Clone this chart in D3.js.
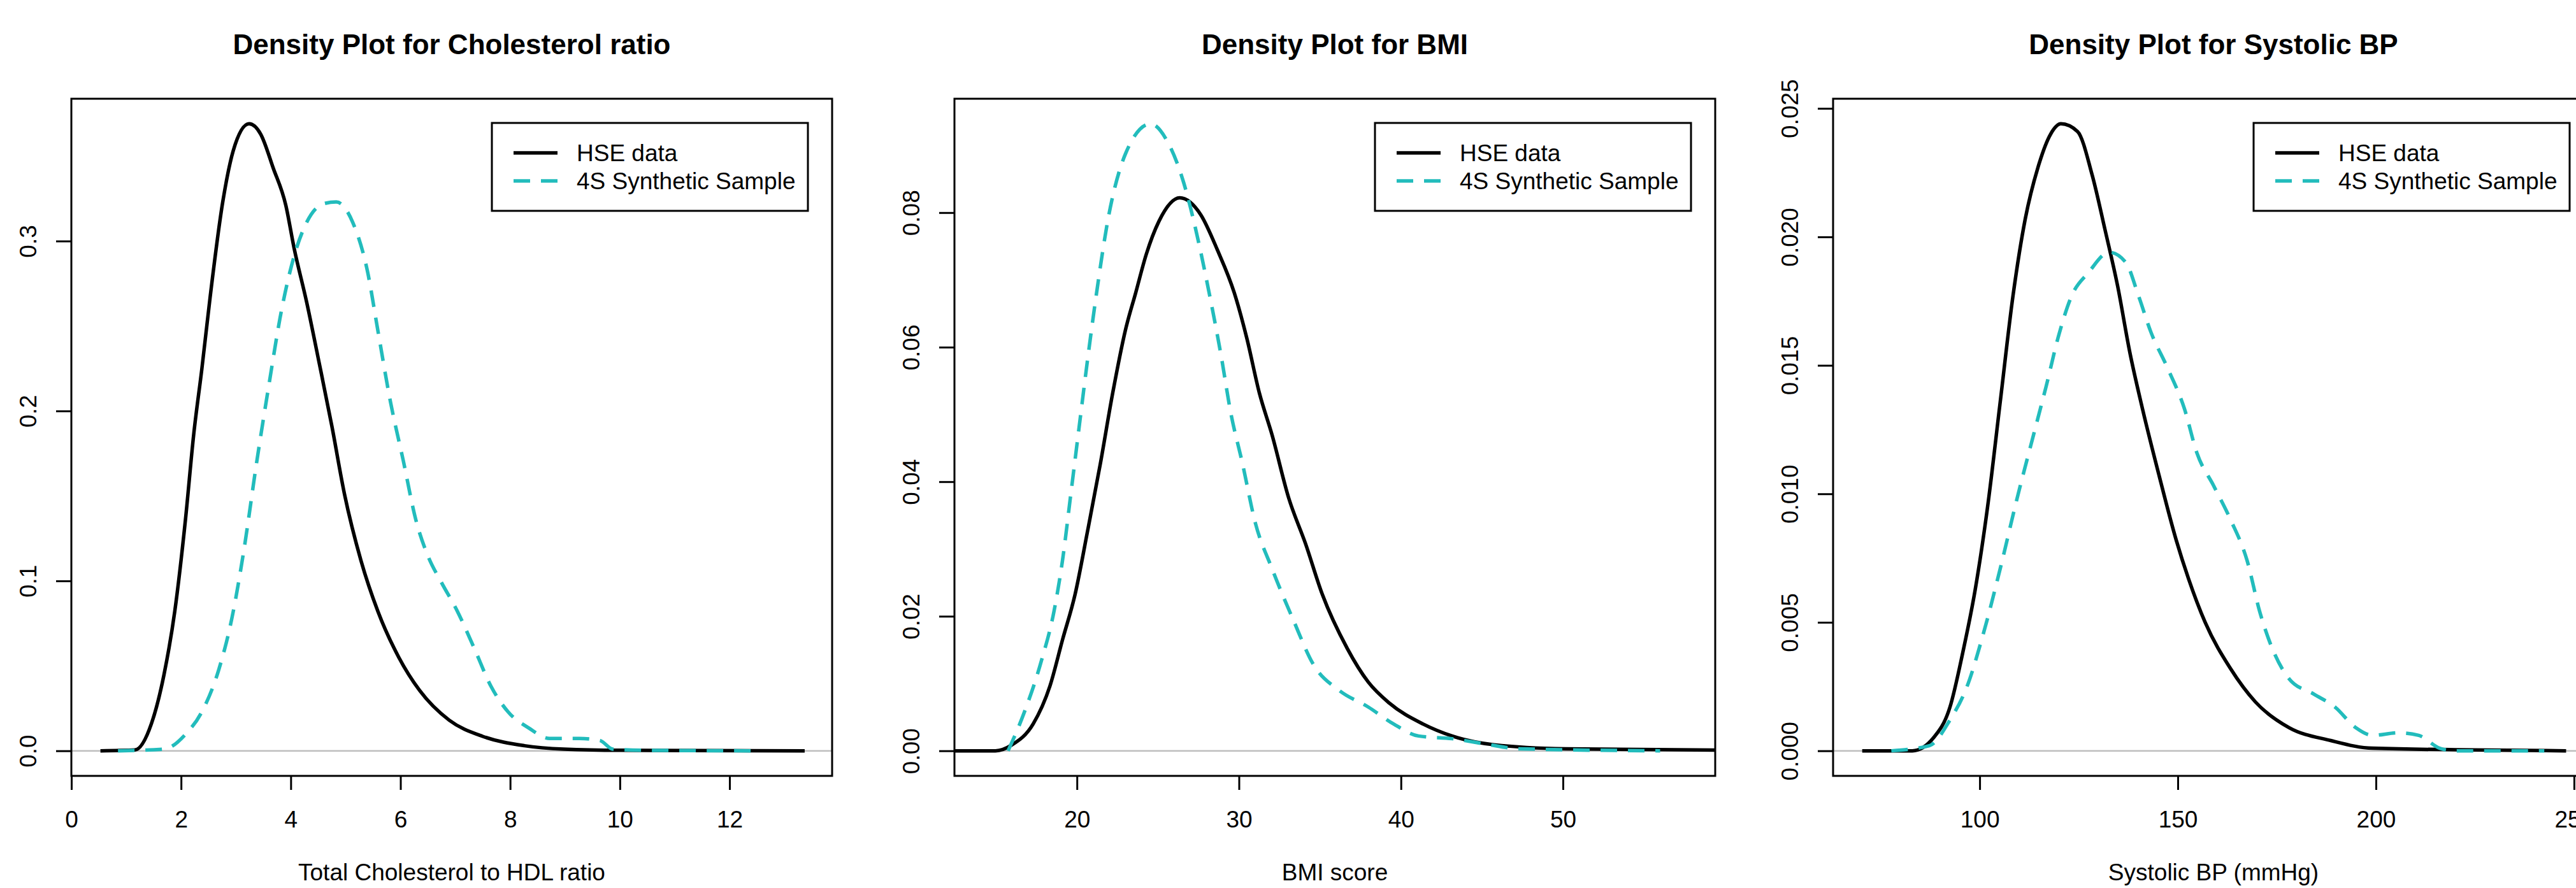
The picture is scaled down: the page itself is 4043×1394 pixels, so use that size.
<!DOCTYPE html>
<html>

<head>
    <meta charset="UTF-8">
    <title>Density plots</title>
    <style>
        body {
            margin: 0;
            overflow: hidden;
            background: #fff;
            font-family: 'Liberation Sans', Arial, sans-serif;
        }

        .title {
            font-size: 44px;
            font-weight: bold;
            text-anchor: middle;
        }

        .axislabel,
        .legend text,
        .axis text {
            font-size: 37px;
            fill: #000;
        }

        .axislabel {
            text-anchor: middle;
        }

        .axis line {
            stroke: #000;
            stroke-width: 3px;
        }
    </style>
</head>

<body>
    <script src="https://d3js.org/d3.v7.min.js"></script>
    <script>
        /// data

        var titles = ["Density Plot for Cholesterol ratio", "Density Plot for BMI", "Density Plot for Systolic BP"];
        var xLabels = ["Total Cholesterol to HDL ratio", "BMI score", "Systolic BP (mmHg)"];
        var seriesNames = ["HSE data", "4S Synthetic Sample"];

        // axis limits and ticks per panel
        var xLimits = [[0, 13.87], [12.44, 59.4], [63, 255]];
        var xTicks = [[0, 2, 4, 6, 8, 10, 12], [20, 30, 40, 50], [100, 150, 200, 250]];
        var yTicks = [[0, 0.1, 0.2, 0.3], [0, 0.02, 0.04, 0.06, 0.08], [0, 0.005, 0.01, 0.015, 0.02, 0.025]];
        var yDecimals = [1, 2, 3];

        // [x, density]
        var cholHse = [[0.53, 0], [1.16, 0.0005], [1.46, 0.016], [1.69, 0.045], [1.885, 0.082], [2.08, 0.136],
            [2.23, 0.186], [2.38, 0.225], [2.53, 0.267], [2.76, 0.323], [2.95, 0.353], [3.24, 0.369],
            [3.45, 0.363], [3.68, 0.343], [3.91, 0.321], [4.06, 0.296], [4.29, 0.264], [4.52, 0.228],
            [4.75, 0.191], [4.98, 0.151], [5.28, 0.112], [5.59, 0.082], [5.97, 0.055], [6.35, 0.0355],
            [6.89, 0.018], [7.5, 0.0085], [8.26, 0.003], [8.98, 0.001], [10, 0.0003], [13.37, 0]];
        var chol4s = [[0.85, 0], [1.69, 0.001], [2.08, 0.0097], [2.38, 0.023], [2.69, 0.048], [2.92, 0.077],
            [3.15, 0.119], [3.37, 0.168], [3.6, 0.215], [3.83, 0.259], [4.06, 0.291], [4.29, 0.311],
            [4.6, 0.322], [4.83, 0.323], [5.13, 0.311], [5.4, 0.282], [5.59, 0.247], [5.82, 0.205],
            [6.05, 0.171], [6.28, 0.136], [6.51, 0.114], [6.74, 0.0995], [7.04, 0.082], [7.35, 0.06],
            [7.65, 0.038], [7.96, 0.023], [8.34, 0.0134], [8.72, 0.0073], [9.26, 0.0073], [9.64, 0.006],
            [9.87, 0.001], [10.5, 0.0003], [12.4, 0]];

        var bmiHse = [[8, 0], [14.97, 0], [16.0, 0.0009], [17.3, 0.004], [18.33, 0.0096], [19.11, 0.0165],
            [19.89, 0.0233], [20.66, 0.0327], [21.44, 0.0426], [22.21, 0.0532], [22.99, 0.0625], [23.63, 0.0681],
            [24.28, 0.0738], [25.06, 0.0787], [26.35, 0.0822], [27.64, 0.0797], [28.68, 0.0744], [29.71, 0.0681],
            [30.49, 0.0613], [31.26, 0.0532], [32.04, 0.047], [33.07, 0.0376], [34.11, 0.0308], [35.14, 0.0233],
            [36.69, 0.0152], [37.99, 0.0102], [39.28, 0.0071], [41.35, 0.004], [43.16, 0.0022], [45.75, 0.0009],
            [50.15, 0.0003], [65, 0]];
        var bmi4s = [[15.75, 0], [16.78, 0.0059], [17.81, 0.0134], [18.59, 0.0208], [19.11, 0.0283], [19.63, 0.0383],
            [20.14, 0.0482], [20.66, 0.0582], [21.18, 0.0675], [21.95, 0.0794], [22.99, 0.0887], [24.54, 0.0932],
            [25.58, 0.0906], [26.61, 0.0843], [27.39, 0.0769], [28.16, 0.0681], [28.94, 0.0582], [29.46, 0.0507],
            [30.23, 0.0426], [31.01, 0.0339], [32.04, 0.0271], [33.33, 0.0196], [34.63, 0.0127], [36.18, 0.009],
            [37.99, 0.0065], [39.54, 0.004], [41.09, 0.0022], [43.16, 0.0018], [45.23, 0.001], [47.3, 0.0003],
            [56, 0]];

        var bpHse = [[70.35, 0], [83, 0], [88.3, 0.0005], [92.5, 0.0017], [95.7, 0.0038], [98.9, 0.0063],
            [102, 0.0095], [105.2, 0.0136], [108.4, 0.0177], [111.5, 0.0207], [114.7, 0.0227], [117.9, 0.024],
            [120.5, 0.0244], [124.7, 0.0241], [128.4, 0.0224], [131.6, 0.0203], [134.8, 0.0181], [137.9, 0.0155],
            [141.1, 0.0133], [145.3, 0.0107], [149.6, 0.0082], [152.7, 0.0067], [156.9, 0.005], [163.3, 0.0032],
            [169.6, 0.0019], [178.1, 0.0009], [188.6, 0.0004], [199.2, 0.0001], [248, 0]];
        var bp4s = [[77.7, 0], [87.3, 0.0002], [92.5, 0.0012], [96.8, 0.0025], [101, 0.0046], [105.2, 0.0071],
            [109.4, 0.0098], [113.6, 0.0123], [116.8, 0.0142], [120, 0.0162], [123.2, 0.0177], [127.4, 0.0186],
            [132.7, 0.0194], [136.9, 0.019], [140.1, 0.0177], [143.2, 0.0163], [147.4, 0.0149], [151.7, 0.0133],
            [154.8, 0.0116], [159.1, 0.0103], [163.3, 0.009], [167.5, 0.0074], [170.7, 0.0054], [173.8, 0.004],
            [178.1, 0.0028], [184.4, 0.0022], [189.7, 0.0017], [194.9, 0.0009], [199.2, 0.0006], [205.5, 0.0007],
            [210.8, 0.0006], [216.1, 0.0001], [220, 0], [242.5, 0]];

        var panelData = [[cholHse, chol4s], [bmiHse, bmi4s], [bpHse, bp4s]];

        /// params

        var width = 4043,
            height = 1394;
        var panelLeft = [112, 1498, 2877];
        var plotW = 1194,
            plotTop = 155,
            plotBottom = 1218;
        var colors = ["#000000", "#22bcbc"];
        var dashes = [null, "26,17"];
        var lineW = 5.5;

        /// main

        var svg = d3.select("body").append("svg")
            .attr("width", width)
            .attr("height", height);

        svg.append("rect")
            .attr("width", width)
            .attr("height", height)
            .attr("fill", "#fff");

        panelData.forEach(function(series, i) {
            var left = panelLeft[i],
                right = left + plotW;

            var x = d3.scaleLinear().domain(xLimits[i]).range([left, right]);
            // R style: y limits are [0, max] padded by 4%
            var ymax = d3.max(series, function(s) {
                return d3.max(s, function(d) { return d[1]; });
            });
            var y = d3.scaleLinear().domain([-0.04 * ymax, 1.04 * ymax]).range([plotBottom, plotTop]);

            var g = svg.append("g").attr("class", "panel");

            // clip for curves
            var clipId = "clip" + i;
            g.append("clipPath").attr("id", clipId)
                .append("rect")
                .attr("x", left).attr("y", plotTop)
                .attr("width", plotW).attr("height", plotBottom - plotTop);

            // title
            g.append("text")
                .attr("class", "title")
                .attr("x", (left + right) / 2)
                .attr("y", 85)
                .text(titles[i]);

            // zero line
            g.append("line")
                .attr("x1", left).attr("x2", right)
                .attr("y1", y(0)).attr("y2", y(0))
                .attr("stroke", "#bebebe")
                .attr("stroke-width", 2.5);

            // curves
            var line = d3.line()
                .x(function(d) { return x(d[0]); })
                .y(function(d) { return y(d[1]); })
                .curve(d3.curveMonotoneX);

            series.forEach(function(s, k) {
                g.append("path")
                    .datum(s)
                    .attr("clip-path", "url(#" + clipId + ")")
                    .attr("d", line)
                    .attr("fill", "none")
                    .attr("stroke", colors[k])
                    .attr("stroke-width", lineW)
                    .attr("stroke-linejoin", "round")
                    .attr("stroke-dasharray", dashes[k]);
            });

            // x axis
            var xAxis = g.append("g")
                .attr("class", "axis")
                .attr("transform", "translate(0," + plotBottom + ")")
                .call(d3.axisBottom(x).tickValues(xTicks[i]).tickSize(22).tickPadding(33).tickFormat(d3.format("d")));
            xAxis.select(".domain").remove();
            xAxis.selectAll("text").attr("font-family", null).attr("font-size", null);

            // y axis, labels parallel to the axis
            var fmt = d3.format("." + yDecimals[i] + "f");
            var yAxis = g.append("g")
                .attr("class", "axis")
                .attr("transform", "translate(" + left + ",0)")
                .call(d3.axisLeft(y).tickValues(yTicks[i]).tickSize(24).tickFormat(fmt));
            yAxis.select(".domain").remove();
            yAxis.selectAll("text")
                .attr("x", null).attr("dy", null)
                .attr("text-anchor", "middle")
                .attr("transform", "translate(-55,0) rotate(-90)");

            // box
            g.append("rect")
                .attr("x", left).attr("y", plotTop)
                .attr("width", plotW).attr("height", plotBottom - plotTop)
                .attr("fill", "none")
                .attr("stroke", "#000")
                .attr("stroke-width", 3);

            // x label
            g.append("text")
                .attr("class", "axislabel")
                .attr("x", (left + right) / 2)
                .attr("y", 1382)
                .text(xLabels[i]);

            // legend
            var lgX = right - 534,
                lgY = plotTop + 38;
            var lg = g.append("g").attr("class", "legend");
            lg.append("rect")
                .attr("x", lgX).attr("y", lgY)
                .attr("width", 496).attr("height", 138)
                .attr("fill", "#fff")
                .attr("stroke", "#000")
                .attr("stroke-width", 3);
            seriesNames.forEach(function(name, k) {
                var ry = lgY + 47 + k * 44;
                lg.append("line")
                    .attr("x1", lgX + 34).attr("x2", lgX + 103)
                    .attr("y1", ry).attr("y2", ry)
                    .attr("stroke", colors[k])
                    .attr("stroke-width", lineW)
                    .attr("stroke-dasharray", dashes[k]);
                lg.append("text")
                    .attr("x", lgX + 133)
                    .attr("y", ry)
                    .attr("dy", "0.35em")
                    .text(name);
            });
        });
    </script>
</body>

</html>
